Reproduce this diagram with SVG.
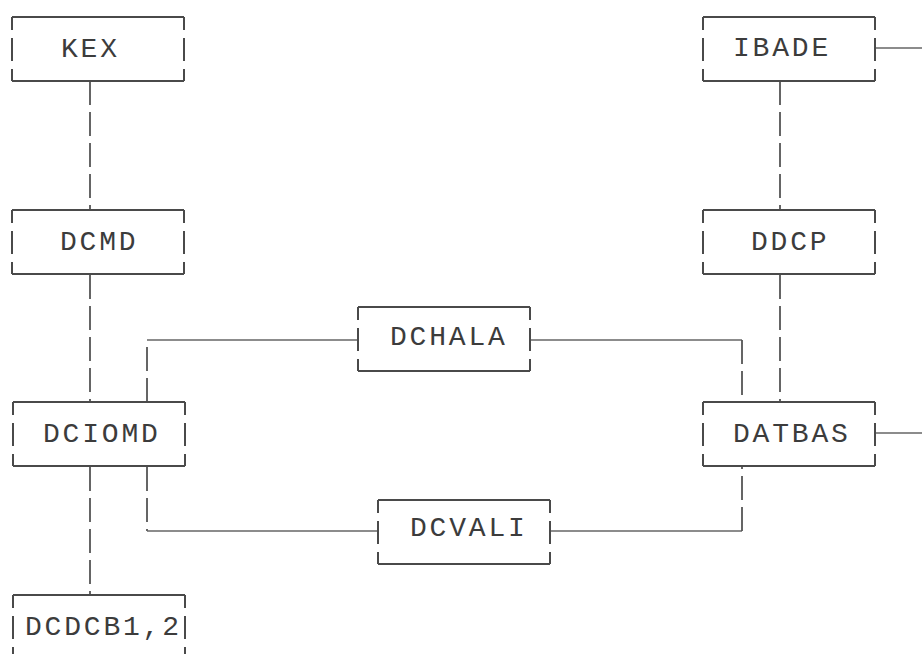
<svg xmlns="http://www.w3.org/2000/svg" xmlns:xlink="http://www.w3.org/1999/xlink" width="922" height="654" viewBox="0 0 922 654">
  <style>
    .edge { fill: none; stroke: #4a4a4a; stroke-width: 2; }
    .side { fill: none; stroke: #4a4a4a; stroke-width: 2; stroke-dasharray: 13 8 23 8 12; }
    .link { fill: none; stroke: #666; stroke-width: 1.6; }
    .dash { fill: none; stroke: #555; stroke-width: 1.8; stroke-dasharray: 24 7; }
    .lbl { font-family: "Liberation Mono", "DejaVu Sans Mono", monospace; font-size: 28px; letter-spacing: 2.8px; fill: #3c3c3c; }
  </style>
  <defs>
    <!-- printer-style frame: solid top/bottom rules, broken side bars -->
    <g id="frame">
      <path class="edge" d="M0 0H172M0 64H172"/>
      <path class="side" d="M0 0V64M172 0V64"/>
    </g>
  </defs>
  <rect width="922" height="654" fill="#fff"/>

  <g id="connectors">
    <path class="dash" d="M90 81V210"/>
    <path class="dash" d="M90 275V402"/>
    <path class="dash" d="M90 467V595"/>
    <path class="dash" d="M147 402V340"/>
    <path class="link" d="M147 340H358"/>
    <path class="link" d="M531 340H742"/>
    <path class="dash" d="M742 340V402"/>
    <path class="dash" d="M147 467V531"/>
    <path class="link" d="M147 531H378"/>
    <path class="link" d="M550 531H742"/>
    <path class="dash" d="M742 531V467"/>
    <path class="dash" d="M780 81V210"/>
    <path class="dash" d="M780 275V402"/>
    <path class="link" d="M875 48H922"/>
    <path class="link" d="M875 433H922"/>
  </g>

  <g id="kex"><use xlink:href="#frame" x="12" y="17"/><text class="lbl" x="61" y="57">KEX</text></g>
  <g id="ibade"><use xlink:href="#frame" x="703" y="17"/><text class="lbl" x="733" y="56">IBADE</text></g>
  <g id="dcmd"><use xlink:href="#frame" x="12" y="210"/><text class="lbl" x="60" y="250">DCMD</text></g>
  <g id="ddcp"><use xlink:href="#frame" x="703" y="210"/><text class="lbl" x="751" y="250">DDCP</text></g>
  <g id="dchala"><use xlink:href="#frame" x="358" y="307"/><text class="lbl" x="390" y="345">DCHALA</text></g>
  <g id="dciomd"><use xlink:href="#frame" x="13" y="402"/><text class="lbl" x="43" y="442">DCIOMD</text></g>
  <g id="datbas"><use xlink:href="#frame" x="703" y="402"/><text class="lbl" x="733" y="442">DATBAS</text></g>
  <g id="dcvali"><use xlink:href="#frame" x="378" y="500"/><text class="lbl" x="410" y="536">DCVALI</text></g>
  <g id="dcdcb"><use xlink:href="#frame" x="13" y="595"/><text class="lbl" x="25" y="635">DCDCB1,2</text></g>
</svg>
